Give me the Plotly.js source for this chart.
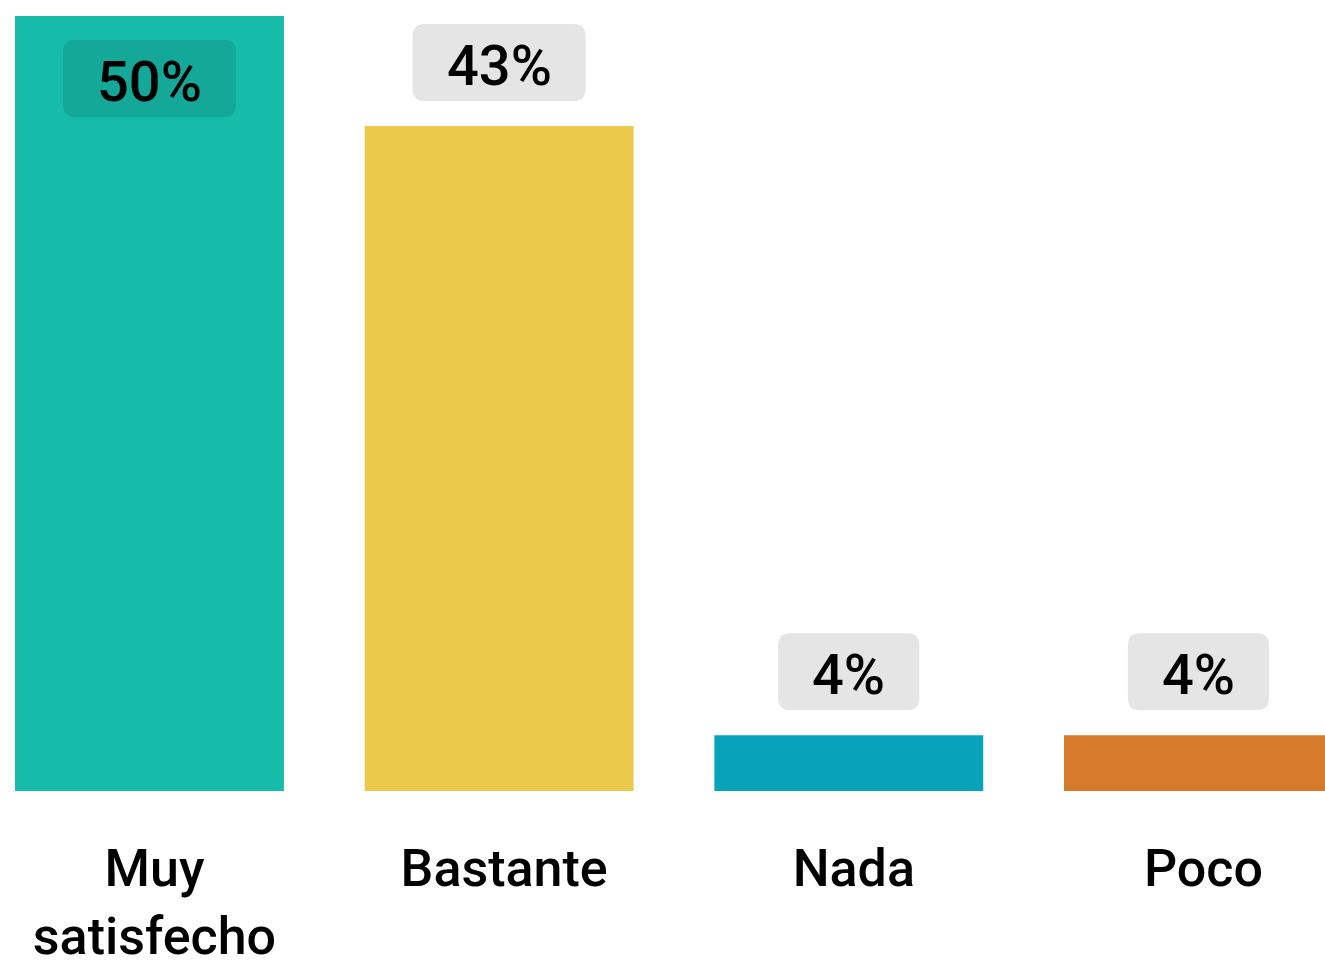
<!DOCTYPE html>
<html>
<head>
<meta charset="utf-8">
<script src="https://cdn.plot.ly/plotly-3.0.1.min.js"></script>
<style>
  html, body { margin: 0; padding: 0; background: #ffffff; }
  #chart { width: 1325px; height: 964px; }
</style>
</head>
<body>
<div id="chart"></div>
<script>
// ---- Data ----
const categories = ["Muy<br>satisfecho", "Bastante", "Nada", "Poco"];
const values = [50, 42.9, 3.6, 3.6];
const valueLabels = ["50%", "43%", "4%", "4%"];
const barColors = ["#16bba9", "#ebc94a", "#08a2bb", "#d67a2b"];

// ---- Style ----
const FONT = "Roboto, 'Noto Sans', sans-serif";
const LABEL_SIZE = 56;
const BOX_H = 77;
const BOX_GAP = 25;
const BOX_PAD = 34;
const RADIUS = 12;

function textWidth(t) {
  const c = document.createElement("canvas").getContext("2d");
  c.font = "500 " + LABEL_SIZE + "px Roboto";
  return c.measureText(t).width;
}

function roundRect(w, yb, yt, r) {
  const x0 = -w / 2, x1 = w / 2;
  return `M ${x0 + r},${yb} H ${x1 - r} Q ${x1},${yb} ${x1},${yb + r} V ${yt - r} Q ${x1},${yt} ${x1 - r},${yt} H ${x0 + r} Q ${x0},${yt} ${x0},${yt - r} V ${yb + r} Q ${x0},${yb} ${x0 + r},${yb} Z`;
}

const maxVal = Math.max(...values);
const shapes = [];
const annotations = [];
values.forEach((v, i) => {
  const inside = v === maxVal;
  const w = textWidth(valueLabels[i]) + 2 * BOX_PAD;
  let yb, yt;
  if (inside) { yt = -24; yb = yt - BOX_H; }
  else { yb = BOX_GAP; yt = yb + BOX_H; }
  shapes.push({
    type: "path", xref: "x", yref: "y",
    xsizemode: "pixel", ysizemode: "pixel",
    xanchor: i, yanchor: v,
    path: roundRect(w, yb, yt, RADIUS),
    fillcolor: inside ? "rgba(0,0,0,0.1)" : "#e5e5e5",
    line: { width: 0 }, layer: "above"
  });
  annotations.push({
    x: i, y: v, xref: "x", yref: "y",
    text: valueLabels[i], showarrow: false,
    yshift: (yb + yt) / 2 - 3, yanchor: "middle", xanchor: "center",
    font: { family: FONT, size: LABEL_SIZE, color: "#000000", weight: 500 }
  });
});

const trace = {
  type: "bar",
  x: [0, 1, 2, 3],
  y: values,
  marker: { color: barColors, line: { width: 0 } },
  hoverinfo: "skip"
};

const layout = {
  width: 1325, height: 964,
  margin: { l: 0, r: 0, t: 16, b: 173 },
  paper_bgcolor: "#ffffff", plot_bgcolor: "#ffffff",
  showlegend: false,
  bargap: 0.231,
  xaxis: {
    range: [-0.4275, 3.362],
    tickmode: "array", tickvals: [0, 1, 2, 3], ticktext: categories,
    showgrid: false, zeroline: false, showline: false, ticks: "",
    ticklabelshift: 5, ticklabelstandoff: 42,
    tickfont: { family: FONT, size: 52, color: "#000000", weight: 500 }
  },
  yaxis: {
    range: [0, 50], visible: false, showgrid: false, zeroline: false
  },
  shapes: shapes,
  annotations: annotations
};

Plotly.newPlot("chart", [trace], layout, { displayModeBar: false, staticPlot: true });
</script>
</body>
</html>
